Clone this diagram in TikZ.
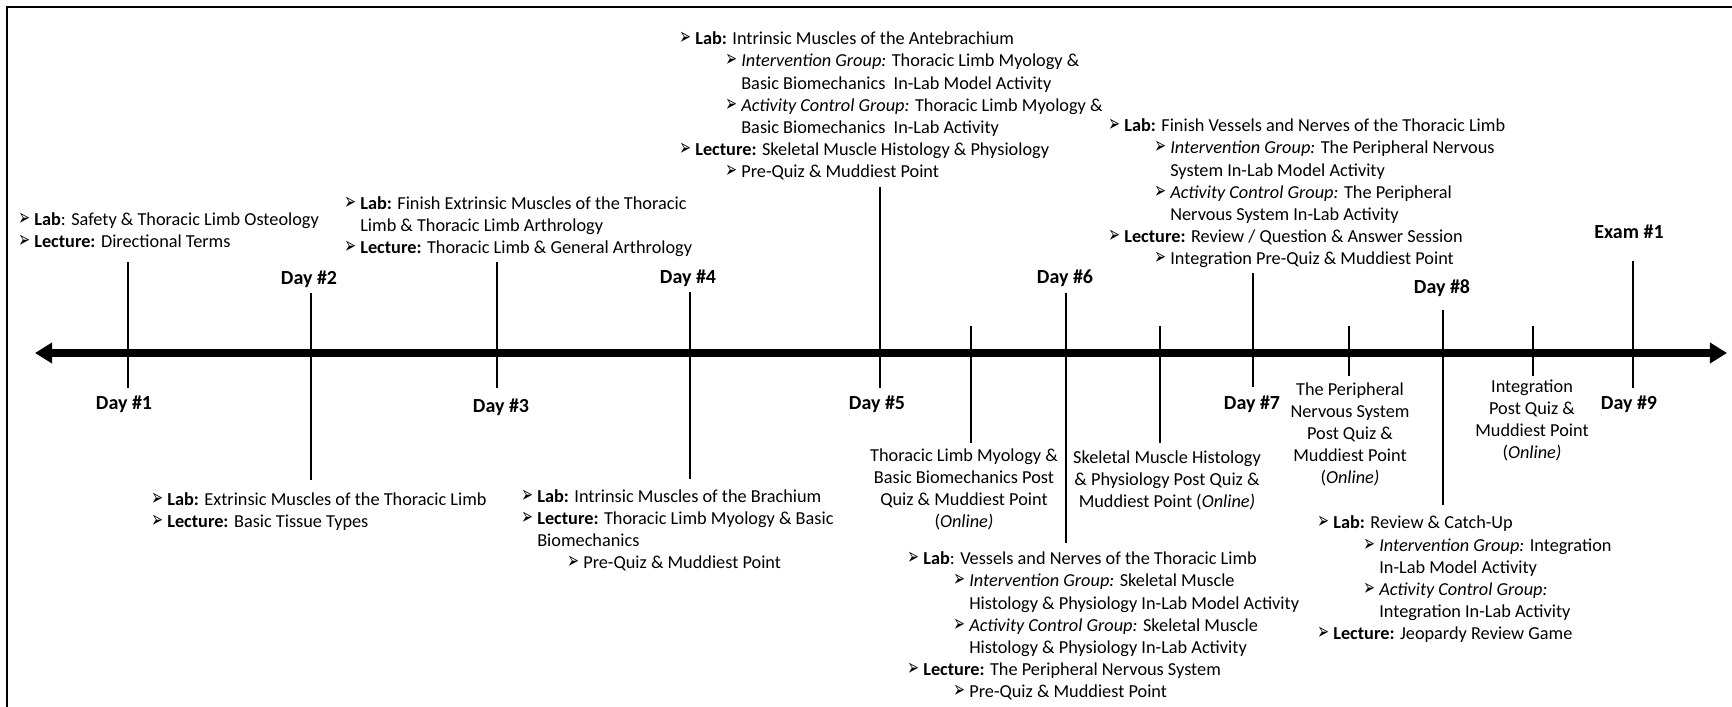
\documentclass[tikz,border=0pt]{standalone}
\usepackage{fontspec}
\setmainfont{Carlito}
\newfontfamily\arrowfont{DejaVu Sans}
\usetikzlibrary{arrows.meta,positioning}
\newcommand{\itm}{\makebox[0.4cm][l]{\scalebox{0.6}[1.0]{\arrowfont\fontsize{16.5}{16}\selectfont ➢}}}
\newcommand{\subitm}{\hspace*{1.15cm}\itm}
\newcommand{\cont}{\hspace*{0.4cm}}
\newcommand{\subcont}{\hspace*{1.55cm}}

\begin{document}
\begin{tikzpicture}[
    x=0.025cm, y=-0.025cm,
    notes/.style={anchor=base west, align=left, inner sep=0pt, font=\fontsize{13}{15.8}\selectfont},
    postq/.style={anchor=base, align=center, inner sep=0pt, font=\fontsize{13}{15.8}\selectfont},
    daylab/.style={anchor=base, inner sep=0pt, font=\fontsize{14.2}{17}\selectfont\bfseries},
    tick/.style={line width=2.1pt},
    axisline/.style={line width=5pt, {Triangle[length=4.3mm,width=5mm]}-{Triangle[length=4.3mm,width=5mm]}}
]
\useasboundingbox (0,0) rectangle (1732,707);
\draw[line width=1.8pt] (7,707) -- (7,7) -- (1732,7);

% timeline
\coordinate (west) at (35,353);
\coordinate (east) at (1727,353);
\draw[axisline] (west) -- (east);

\foreach \n/\x/\a/\b in {d1/128/262/388, d2/311/293/480, d3/497/262/388, d4/690/292/479,
    d5/880/187/388, p5/971/326/443, d6/1066/293/543, p6/1160/326/443, d7/1253/273/387,
    p7/1349/326/376, d8/1443/310/505, p8/1533/326/376, d9/1633/261/388}{
  \coordinate (\n a) at (\x,\a);
  \coordinate (\n b) at (\x,\b);
  \draw[tick] (\n a) -- (\n b);
}

% day labels
\node[daylab] (day1) at (124,410) {Day \#1};
\node[daylab] (day2) at (309,285) {Day \#2};
\node[daylab] (day3) at (501,413) {Day \#3};
\node[daylab] (day4) at (688,284) {Day \#4};
\node[daylab] (day5) at (877,410) {Day \#5};
\node[daylab] (day6) at (1065,284) {Day \#6};
\node[daylab] (day7) at (1252,410) {Day \#7};
\node[daylab] (day8) at (1442,294) {Day \#8};
\node[daylab] (day9) at (1629,410) {Day \#9};
\node[daylab] (exam) at (1629,239) {Exam \#1};

% sessions (anchored at the last line)
\node[notes] (s1) at (18,248) {\itm\textbf{Lab}: Safety \& Thoracic Limb Osteology\\
  \itm\textbf{Lecture:} Directional Terms};
\node[notes] (s2) at (151,528) {\itm\textbf{Lab:} Extrinsic Muscles of the Thoracic Limb\\
  \itm\textbf{Lecture:} Basic Tissue Types};
\node[notes] (s3) at (344,254) {\itm\textbf{Lab:} Finish Extrinsic Muscles of the Thoracic\\
  \cont Limb \& Thoracic Limb Arthrology\\
  \itm\textbf{Lecture:} Thoracic Limb \& General Arthrology};
\node[notes] (s4) at (521,569) {\itm\textbf{Lab:} Intrinsic Muscles of the Brachium\\
  \itm\textbf{Lecture:} Thoracic Limb Myology \& Basic\\
  \cont Biomechanics\\
  \subitm Pre-Quiz \& Muddiest Point};
\node[notes] (s5) at (679,178) {\itm\textbf{Lab:} Intrinsic Muscles of the Antebrachium\\
  \subitm\textit{Intervention Group:} Thoracic Limb Myology \&\\
  \subcont Basic Biomechanics\ \ In-Lab Model Activity\\
  \subitm\textit{Activity Control Group:} Thoracic Limb Myology \&\\
  \subcont Basic Biomechanics\ \ In-Lab Activity\\
  \itm\textbf{Lecture:} Skeletal Muscle Histology \& Physiology\\
  \subitm Pre-Quiz \& Muddiest Point};
\node[notes] (s6) at (907,698) {\itm\textbf{Lab}: Vessels and Nerves of the Thoracic Limb\\
  \subitm\textit{Intervention Group:} Skeletal Muscle\\
  \subcont Histology \& Physiology In-Lab Model Activity\\
  \subitm\textit{Activity Control Group:} Skeletal Muscle\\
  \subcont Histology \& Physiology In-Lab Activity\\
  \itm\textbf{Lecture:} The Peripheral Nervous System\\
  \subitm Pre-Quiz \& Muddiest Point};
\node[notes] (s7) at (1108,265) {\itm\textbf{Lab:} Finish Vessels and Nerves of the Thoracic Limb\\
  \subitm\textit{Intervention Group:} The Peripheral Nervous\\
  \subcont System In-Lab Model Activity\\
  \subitm\textit{Activity Control Group:} The Peripheral\\
  \subcont Nervous System In-Lab Activity\\
  \itm\textbf{Lecture:} Review / Question \& Answer Session\\
  \subitm Integration Pre-Quiz \& Muddiest Point};
\node[notes] (s8) at (1317,640) {\itm\textbf{Lab:} Review \& Catch-Up\\
  \subitm\textit{Intervention Group:} Integration\\
  \subcont In-Lab Model Activity\\
  \subitm\textit{Activity Control Group:}\\
  \subcont Integration In-Lab Activity\\
  \itm\textbf{Lecture:} Jeopardy Review Game};

% online post quizzes
\node[postq] (q5) at (964,528) {Thoracic Limb Myology \&\\Basic Biomechanics Post\\Quiz \& Muddiest Point\\(\textit{Online)}};
\node[postq] (q6) at (1167,508) {Skeletal Muscle Histology\\\& Physiology Post Quiz \&\\Muddiest Point (\textit{Online)}};
\node[postq] (q7) at (1350,484) {The Peripheral\\Nervous System\\Post Quiz \&\\Muddiest Point\\(\textit{Online)}};
\node[postq] (q8) at (1532,459) {Integration\\Post Quiz \&\\Muddiest Point\\(\textit{Online)}};
\end{tikzpicture}
\end{document}
